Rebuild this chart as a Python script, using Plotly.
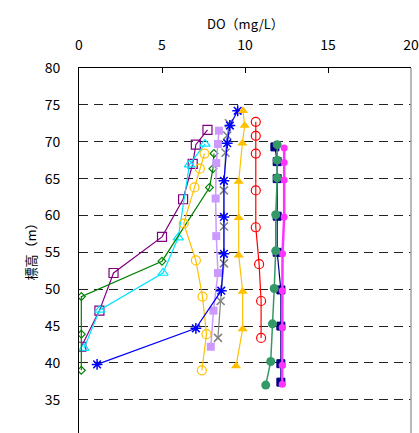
import plotly.graph_objects as go

# DO profiles (mg/L) against elevation (m), one list pair per survey series
do_purple = [7.74, 7.04, 6.85, 6.27, 5.0, 2.08, 1.23, 0.14]
el_purple = [71.6, 69.6, 67.0, 62.2, 57.1, 52.2, 47.1, 42.2]

do_cyan = [7.59, 6.65, 5.98, 5.06, 1.25, 0.30]
el_cyan = [69.7, 66.9, 57.0, 52.2, 47.2, 42.0]

do_green = [8.13, 8.07, 7.86, 5.0, 0.14, 0.14, 0.14]
el_green = [68.4, 66.35, 63.8, 53.8, 49.0, 43.9, 39.0]

do_gold_c = [7.56, 7.28, 6.96, 6.31, 7.04, 7.44, 7.68, 7.40]
el_gold_c = [68.4, 66.35, 63.8, 58.9, 53.9, 49.0, 43.9, 39.0]

do_lav = [8.43, 8.37, 8.27, 8.23, 8.27, 8.37, 8.10, 7.94]
el_lav = [71.5, 69.7, 67.1, 62.3, 57.2, 52.2, 47.1, 42.2]

do_gray = [9.03, 8.93, 8.83, 8.73, 8.73, 8.73, 8.53, 8.37]
el_gray = [72.5, 70.85, 68.5, 63.4, 58.5, 53.5, 48.4, 43.4]

do_blue = [9.56, 9.09, 8.93, 8.73, 8.73, 8.73, 8.57, 7.04, 1.09]
el_blue = [74.2, 72.2, 69.8, 64.7, 59.8, 54.8, 49.8, 44.7, 39.8]

do_gold_t = [9.88, 9.98, 9.84, 9.62, 9.62, 9.62, 9.86, 9.86, 9.46]
el_gold_t = [74.2, 72.2, 69.8, 64.6, 59.7, 54.6, 49.7, 44.6, 39.6]

do_red = [10.65, 10.65, 10.65, 10.65, 10.65, 10.85, 10.97, 10.97]
el_red = [72.7, 70.8, 68.4, 63.4, 58.4, 53.4, 48.4, 43.4]

do_navy = [11.80, 11.94, 11.94, 11.94, 11.94, 12.16, 12.16, 12.16, 12.16]
el_navy = [69.3, 67.3, 65.0, 59.9, 55.0, 49.9, 45.0, 39.9, 37.4]

do_sea = [11.94, 11.94, 11.94, 11.85, 11.85, 11.76, 11.65, 11.55, 11.25]
el_sea = [69.6, 67.5, 65.1, 60.1, 55.2, 50.1, 45.3, 40.2, 37.0]

do_mag = [12.36, 12.36, 12.36, 12.36, 12.26, 12.24, 12.24, 12.24, 12.24]
el_mag = [69.15, 67.2, 64.8, 59.8, 54.8, 49.8, 44.8, 39.7, 37.1]

x_ticks = [0, 5, 10, 15, 20]
y_ticks = [35, 40, 45, 50, 55, 60, 65, 70, 75, 80]
Y_MIN, Y_MAX = 30.5, 80
Y_LOWEST_LABEL = 30

FONT = "Noto Sans CJK JP"

series = [
    (do_purple, el_purple, "#800080", "square-open", 9, 1.2, 1.2),
    (do_cyan, el_cyan, "#00E5FF", "triangle-up-open", 9, 1.2, 1.2),
    (do_green, el_green, "#008000", "diamond-open", 6, 1.2, 1.2),
    (do_gold_c, el_gold_c, "#FFC000", "circle-open", 9, 1.2, 1.2),
    (do_lav, el_lav, "#CC99FF", "square", 8, 1.5, 0),
    (do_gray, el_gray, "#808080", "x-thin-open", 8, 1.2, 1.5),
    (do_blue, el_blue, "#0000FF", "asterisk-open", 9, 1.2, 1.5),
    (do_gold_t, el_gold_t, "#FFC000", "triangle-up", 9, 1.2, 0),
    (do_red, el_red, "#FF0000", "circle-open", 9, 1.2, 1.2),
    (do_navy, el_navy, "#000080", "square", 8, 1.2, 1),
    (do_sea, el_sea, "#339966", "circle", 9, 1.5, 0),
    (do_mag, el_mag, "#FF33FF", "circle", 7, 2.5, 0),
]

fig = go.Figure()
for xs, ys, col, sym, size, lw, mlw in series:
    fig.add_trace(go.Scatter(
        x=xs, y=ys, mode="lines+markers",
        line=dict(color=col, width=lw),
        marker=dict(symbol=sym, size=size, color=col,
                    line=dict(color=col, width=mlw)),
        showlegend=False,
    ))

fig.update_layout(
    width=419, height=433,
    margin=dict(l=79, r=3, t=68, b=0),
    paper_bgcolor="white", plot_bgcolor="white",
    font=dict(family=FONT, size=14, color="black"),
    xaxis=dict(
        side="top", range=[0, 20], tickvals=x_ticks,
        ticks="inside", ticklen=5, tickcolor="black",
        showline=True, linecolor="black", linewidth=1,
        showgrid=False, zeroline=False, ticklabelstandoff=11,
        ticklabeloverflow="allow",
        tickfont=dict(size=14),
    ),
    yaxis=dict(
        range=[Y_MIN, Y_MAX], tickvals=y_ticks,
        ticks="", showline=True, linecolor="black", linewidth=1,
        showgrid=True, gridcolor="#222222", gridwidth=1, griddash="9px,6px",
        zeroline=False, ticklabelstandoff=15,
        tickfont=dict(size=14),
    ),
    shapes=[
        dict(type="line", xref="paper", yref="paper", x0=1, x1=1, y0=0, y1=1,
             line=dict(color="#a0a0a0", width=1.5)),
    ],
    annotations=[
        dict(text="DO（mg/L）", xref="paper", yref="paper", x=0.5, y=1,
             yshift=45, showarrow=False, font=dict(size=13), borderpad=0,
             xanchor="center", yanchor="middle"),
        dict(text="標高（m）", xref="paper", yref="paper", x=0, y=0.5,
             xshift=-49, yshift=2, textangle=-90, showarrow=False,
             xanchor="center", yanchor="middle", font=dict(size=13)),
        dict(text=str(Y_LOWEST_LABEL), xref="paper", yref="paper", x=0,
             y=(Y_LOWEST_LABEL - Y_MIN) / (Y_MAX - Y_MIN), xshift=-15,
             xanchor="right", yanchor="middle", showarrow=False,
             font=dict(size=14)),
    ],
)

fig.write_html("out.html")
